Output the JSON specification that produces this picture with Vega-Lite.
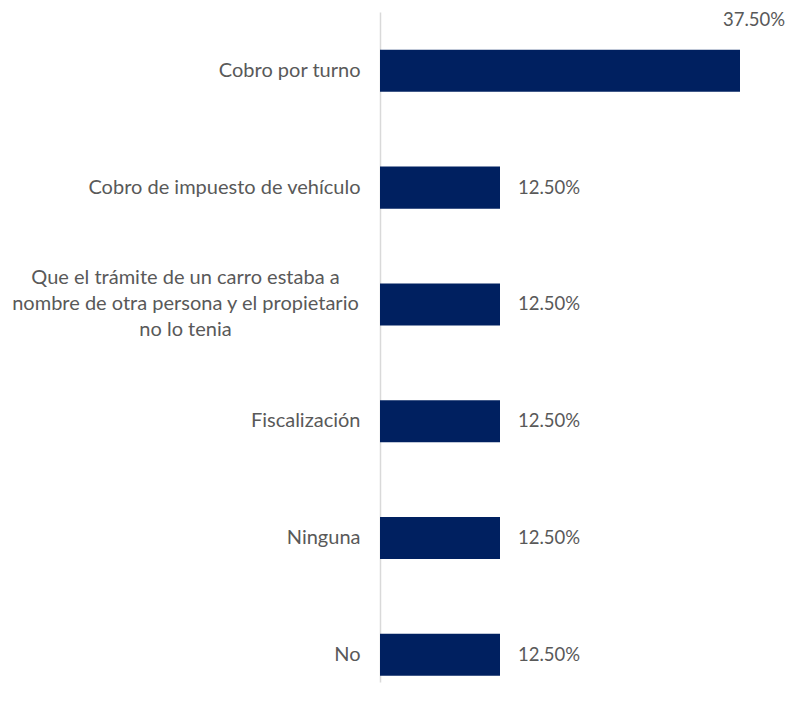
{
  "$schema": "https://vega.github.io/schema/vega-lite/v6.json",
  "autosize": {"type": "none"},
  "width": 360,
  "height": 670,
  "padding": {"left": 380, "top": 12, "right": 48, "bottom": 28},
  "background": "white",
  "config": {"view": {"stroke": null}},
  "data": {
    "values": [
      {"categoria": "Cobro por turno", "valor": 0.375},
      {"categoria": "Cobro de impuesto de vehículo", "valor": 0.125},
      {"categoria": "Que el trámite de un carro estaba a nombre de otra persona y el propietario no lo tenia", "valor": 0.125},
      {"categoria": "Fiscalización", "valor": 0.125},
      {"categoria": "Ninguna", "valor": 0.125},
      {"categoria": "No", "valor": 0.125}
    ]
  },
  "encoding": {
    "y": {
      "field": "categoria",
      "type": "nominal",
      "sort": null,
      "scale": {"paddingInner": 0.64, "paddingOuter": 0.188, "align": 0.86},
      "axis": {
        "title": null,
        "ticks": false,
        "domainColor": "#d9d9d9",
        "domainWidth": 1.5,
        "labelFont": "Lato",
        "labelFontSize": 20,
        "labelColor": "#595959",
        "labelLimit": 500,
        "labelPadding": {"condition": {"test": "length(datum.label) > 40", "value": 195}, "value": 20},
        "labelAlign": {"condition": {"test": "length(datum.label) > 40", "value": "center"}, "value": "right"},
        "labelOffset": {"condition": {"test": "length(datum.label) > 40", "value": -26}, "value": 0},
        "labelLineHeight": 26,
        "labelExpr": "length(datum.label) > 40 ? ['Que el trámite de un carro estaba a', 'nombre de otra persona y el propietario', 'no lo tenia'] : datum.label"
      }
    },
    "x": {
      "field": "valor",
      "type": "quantitative",
      "scale": {"domain": [0, 0.375], "nice": false},
      "axis": null
    }
  },
  "layer": [
    {"mark": {"type": "bar", "color": "#002060"}},
    {
      "transform": [{"filter": "datum.valor < 0.375"}],
      "mark": {"type": "text", "align": "left", "baseline": "middle", "dx": 18, "font": "Lato", "fontSize": 18.5, "color": "#595959"},
      "encoding": {"text": {"field": "valor", "type": "quantitative", "format": ".2%"}}
    },
    {
      "transform": [{"filter": "datum.valor >= 0.375"}],
      "mark": {"type": "text", "align": "left", "baseline": "middle", "dx": -17, "dy": -51, "font": "Lato", "fontSize": 18.5, "color": "#595959"},
      "encoding": {"text": {"field": "valor", "type": "quantitative", "format": ".2%"}}
    }
  ]
}
